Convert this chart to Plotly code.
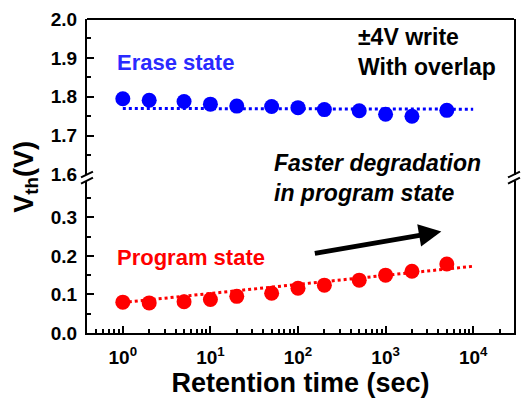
import plotly.graph_objects as go

# Retention measurements: time (s) vs threshold voltage (V)
retention_time = [1, 2, 5, 10, 20, 50, 100, 200, 500, 1000, 2000, 5000]
erase_vth = [1.795, 1.791, 1.788, 1.781, 1.776, 1.775, 1.772, 1.767, 1.764, 1.755, 1.750, 1.765]
program_vth = [0.080, 0.078, 0.081, 0.087, 0.095, 0.103, 0.116, 0.124, 0.137, 0.150, 0.160, 0.179]

# Linear-in-log(t) trend lines
fit_time = [1, 10000]
erase_fit = [1.770, 1.768]
program_fit = [0.079, 0.173]

# Axis ticks
x_tickvals = [1, 10, 100, 1000, 10000]
x_ticktext = ["10<sup>0</sup>", "10<sup>1</sup>", "10<sup>2</sup>", "10<sup>3</sup>", "10<sup>4</sup>"]
x_minor = [m * 10 ** e for e in range(-1, 5) for m in range(2, 10)]

BLUE = "#0000ff"
RED = "#ff0000"
FONT = "Liberation Sans, Arial, sans-serif"

W, H = 525, 399
ML, MR, MT, MB = 87, 9, 14, 66
PW, PH = W - ML - MR, H - MT - MB


def px(x):
    return (x - ML) / PW


def py(y):
    return (H - MB - y) / PH


low_top = 0.4853   # top of lower (program) panel
high_bot = 0.5047  # bottom of upper (erase) panel

fig = go.Figure()

fig.add_trace(go.Scatter(x=fit_time, y=erase_fit, mode="lines", yaxis="y2",
                         line=dict(color=BLUE, width=3, dash="dot"), showlegend=False))
fig.add_trace(go.Scatter(x=fit_time, y=program_fit, mode="lines", yaxis="y",
                         line=dict(color=RED, width=3, dash="dot"), showlegend=False))
fig.add_trace(go.Scatter(x=retention_time, y=erase_vth, mode="markers", yaxis="y2",
                         marker=dict(color=BLUE, size=15), showlegend=False))
fig.add_trace(go.Scatter(x=retention_time, y=program_vth, mode="markers", yaxis="y",
                         marker=dict(color=RED, size=15), showlegend=False))

tickfont = dict(family=FONT, size=19, color="black", weight="bold")
yaxis_common = dict(showline=True, linecolor="black", linewidth=2, mirror=True,
                    ticks="inside", ticklen=7, tickwidth=2, tickcolor="black",
                    showgrid=False, zeroline=False, dtick=0.1, tickformat=".1f",
                    tickfont=tickfont, ticklabelstandoff=4,
                    minor=dict(ticks="inside", ticklen=4, tickwidth=2, dtick=0.05,
                               tickcolor="black", showgrid=False),
                    anchor="x")

fig.update_layout(
    width=W, height=H,
    margin=dict(l=ML, r=MR, t=MT, b=MB),
    paper_bgcolor="white", plot_bgcolor="white",
    font=dict(family=FONT, color="black"),
    xaxis=dict(type="log", range=[-0.409, 4.466], showline=True, linecolor="black",
               linewidth=2, ticks="inside", ticklen=7, tickwidth=2, tickcolor="black",
               tickvals=x_tickvals, ticktext=x_ticktext, tickfont=tickfont,
               ticklabelstandoff=6, showgrid=False, zeroline=False, anchor="y",
               minor=dict(ticks="inside", ticklen=4, tickwidth=2, tickcolor="black",
                          tickvals=x_minor, showgrid=False),
               title=dict(text="<b>Retention time (sec)</b>", standoff=2,
                          font=dict(family=FONT, size=27, color="black"))),
    yaxis=dict(domain=[0, low_top], range=[0, 0.395], **yaxis_common),
    yaxis2=dict(domain=[high_bot, 1], range=[1.6, 2.0], **yaxis_common),
)

# Top frame edge
fig.add_shape(type="line", xref="paper", yref="paper", x0=0, x1=1, y0=1, y1=1,
              line=dict(color="black", width=2))

# Axis-break marks on both sides
dx, dy = 6 / PW, 3 / PH
for xb in (0, 1):
    for yb in (low_top, high_bot):
        fig.add_shape(type="line", xref="paper", yref="paper",
                      x0=xb - dx, x1=xb + dx, y0=yb - dy, y1=yb + dy,
                      line=dict(color="black", width=2))

fig.add_annotation(xref="paper", yref="paper", x=px(26), y=py(174),
                   xanchor="center", yanchor="middle",
                   text="<b>V<sub>th</sub>(V)</b>", textangle=-90, showarrow=False,
                   font=dict(family=FONT, size=27, color="black"))
fig.add_annotation(xref="paper", yref="paper", x=px(115), y=py(58), xanchor="left",
                   yanchor="middle", text="<b>Erase state</b>", showarrow=False,
                   font=dict(family=FONT, size=22, color="#2a2aff"))
fig.add_annotation(xref="paper", yref="paper", x=px(115), y=py(256), xanchor="left",
                   yanchor="middle", text="<b>Program state</b>", showarrow=False,
                   font=dict(family=FONT, size=22, color=RED))
fig.add_annotation(xref="paper", yref="paper", x=px(357), y=py(48), xanchor="left",
                   yanchor="middle", align="left",
                   text="<b>±4V write<br>With overlap</b>", showarrow=False,
                   font=dict(family=FONT, size=23, color="black"))
fig.add_annotation(xref="paper", yref="paper", x=px(273), y=py(176), xanchor="left",
                   yanchor="middle", align="left",
                   text="<b><i>Faster degradation<br>in program state</i></b>",
                   showarrow=False, font=dict(family=FONT, size=23, color="black"))
# Trend arrow
fig.add_annotation(xref="paper", yref="paper", x=px(443), y=py(230), text="",
                   showarrow=True, ax=-128, ay=22, arrowhead=2, arrowsize=0.9,
                   arrowwidth=5, arrowcolor="black")

fig.write_html("out.html")
